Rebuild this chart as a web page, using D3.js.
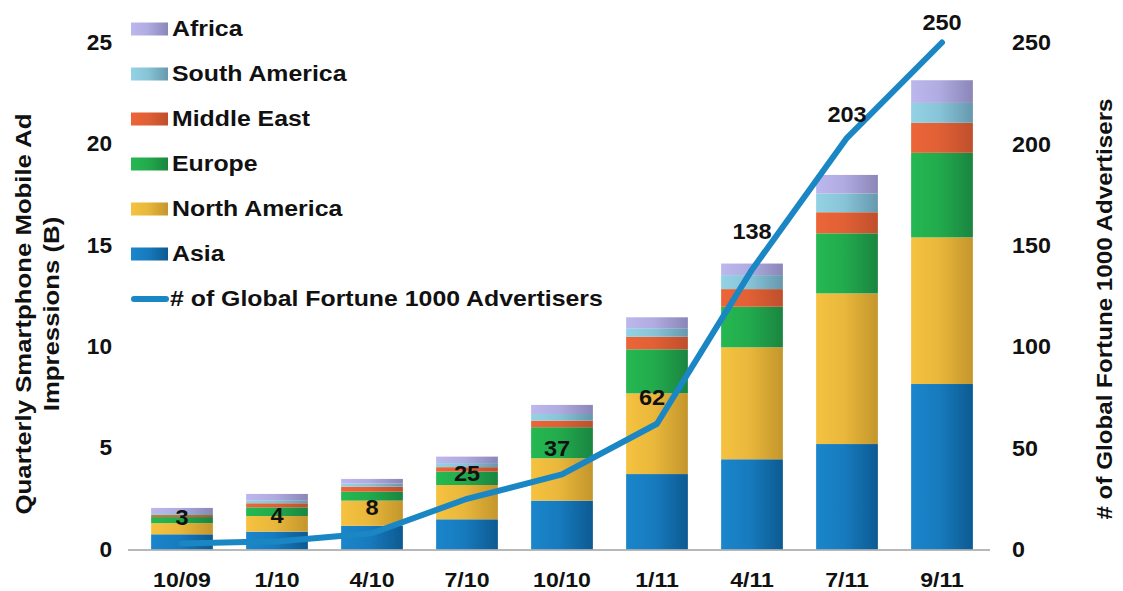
<!DOCTYPE html>
<html>
<head>
<meta charset="utf-8">
<script src="https://cdn.jsdelivr.net/npm/d3@7"></script>
<style>
  body { margin: 0; background: #fff; }
  svg { display: block; }
  text { font-family: "Liberation Sans", Arial, sans-serif; font-weight: bold; fill: #111; }
</style>
</head>
<body>
<div id="chart"></div>
<script>

// data
const quarters = ['10/09', '1/10', '4/10', '7/10', '10/10', '1/11', '4/11', '7/11', '9/11'];
const regions = ['Asia', 'North America', 'Europe', 'Middle East', 'South America', 'Africa'];

const asia         = [0.75, 0.88, 1.17, 1.49, 2.41, 3.72, 4.45, 5.20, 8.16];
const northAmerica = [0.55, 0.77, 1.24, 1.69, 2.09, 3.98, 5.52, 7.43, 7.23];
const europe       = [0.30, 0.43, 0.44, 0.66, 1.53, 2.17, 2.00, 2.96, 4.17];
const middleEast   = [0.10, 0.20, 0.25, 0.22, 0.32, 0.62, 0.87, 1.04, 1.48];
const southAmerica = [0.10, 0.15, 0.15, 0.20, 0.33, 0.42, 0.69, 0.93, 0.98];
const africa       = [0.25, 0.31, 0.23, 0.32, 0.45, 0.54, 0.57, 0.91, 1.12];

const advertisers = [3, 4, 8, 25, 37, 62, 138, 203, 250];

const leftTicks = [0, 5, 10, 15, 20, 25];
const rightTicks = [0, 50, 100, 150, 200, 250];

const seriesValues = [asia, northAmerica, europe, middleEast, southAmerica, africa];

// light -> dark for the horizontal shading on each bar
const colors = {
    'Asia':          ['#1a86cc', '#0d5a92'],
    'North America': ['#f5c240', '#c4962c'],
    'Europe':        ['#25b851', '#1a8540'],
    'Middle East':   ['#ec6538', '#bf4f2c'],
    'South America': ['#93d2e4', '#6698ae'],
    'Africa':        ['#bcb8ee', '#8a86b8']
};
const lineColor = '#1a87c4';

const width = 1123, height = 591;

const svg = d3.select('#chart').append('svg')
    .attr('width', width)
    .attr('height', height);

const defs = svg.append('defs');
regions.forEach(function(r, i) {
    const grad = defs.append('linearGradient')
        .attr('id', 'grad' + i)
        .attr('x1', '0%').attr('x2', '100%')
        .attr('y1', '0%').attr('y2', '0%');
    grad.append('stop').attr('offset', '0%').attr('stop-color', colors[r][0]);
    grad.append('stop').attr('offset', '45%').attr('stop-color', d3.interpolateRgb(colors[r][0], colors[r][1])(0.25));
    grad.append('stop').attr('offset', '100%').attr('stop-color', colors[r][1]);
});

// the source type is a little wide, so each text gets a horizontal stretch
const addText = function(g, x, y, str, size, anchor, stretch, rotate) {
    let tr = `translate(${x},${y})`;
    if (rotate) tr += ` rotate(${rotate})`;
    tr += ` scale(${stretch || 1},1)`;
    return g.append('text')
        .attr('transform', tr)
        .attr('font-size', size)
        .attr('text-anchor', anchor || 'middle')
        .attr('dominant-baseline', 'central')
        .text(str);
};

const x = d3.scaleBand()
    .domain(quarters)
    .range([134.5, 989.5])
    .paddingInner(0.35)
    .paddingOuter(0.175);

const y = d3.scaleLinear().domain([0, 25]).range([549.5, 42.5]);
const yRight = d3.scaleLinear().domain([0, 250]).range([549.5, 42.5]);

// stack the regions
const table = quarters.map(function(q, i) {
    const row = {quarter: q};
    regions.forEach(function(r, j) { row[r] = seriesValues[j][i]; });
    return row;
});
const stacked = d3.stack().keys(regions)(table);

const bars = svg.append('g');
bars.selectAll('g')
    .data(stacked)
    .enter()
    .append('g')
    .attr('fill', function(d, i) { return 'url(#grad' + i + ')'; })
    .selectAll('rect')
    .data(function(d) { return d; })
    .enter()
    .append('rect')
    .attr('x', function(d) { return x(d.data.quarter); })
    .attr('y', function(d) { return y(d[1]); })
    .attr('width', x.bandwidth())
    .attr('height', function(d) { return y(d[0]) - y(d[1]); });

// baseline
svg.append('line')
    .attr('x1', 128).attr('x2', 990)
    .attr('y1', y(0) + 0.5).attr('y2', y(0) + 0.5)
    .attr('stroke', '#a0a0a0')
    .attr('stroke-width', 1.5);

// axes, done by hand on top of the scales (no domain lines in the source)
const leftAxis = svg.append('g');
leftTicks.forEach(function(t) {
    addText(leftAxis, 112, y(t), t, 22, 'end', 1.03);
});
const rightAxis = svg.append('g');
rightTicks.forEach(function(t) {
    addText(rightAxis, 1012, yRight(t), t, 22, 'start', 1.06);
});
const bottomAxis = svg.append('g');
quarters.forEach(function(q) {
    addText(bottomAxis, x(q) + x.bandwidth() / 2, 580, q, 21, 'middle', 1.1);
});

// axis titles, both read bottom to top
addText(svg, 23, 314, 'Quarterly Smartphone Mobile Ad', 22, 'middle', 1.17, -90);
addText(svg, 51, 314, 'Impressions (B)', 22, 'middle', 1.17, -90);
addText(svg, 1104, 309, '# of Global Fortune 1000 Advertisers', 22, 'middle', 1.1, -90);

// advertisers line
const cx = function(q) { return x(q) + x.bandwidth() / 2; };
const line = d3.line()
    .x(function(d, i) { return cx(quarters[i]); })
    .y(function(d) { return yRight(d); });

svg.append('path')
    .datum(advertisers)
    .attr('d', line)
    .attr('fill', 'none')
    .attr('stroke', lineColor)
    .attr('stroke-width', 6)
    .attr('stroke-linejoin', 'round')
    .attr('stroke-linecap', 'round');

// value labels
const labelLift = [26, 26, 26, 26, 26, 26, 38, 24, 20];
const labelShift = [0, 0, 0, 0, -5, -5, 0, 0, 0];
const labels = svg.append('g');
advertisers.forEach(function(v, i) {
    addText(labels, cx(quarters[i]) + labelShift[i], yRight(v) - labelLift[i], v, 22, 'middle', 1.07);
});

// legend, top to bottom is the reverse of the stack
const legend = svg.append('g');
const legendOrder = regions.slice().reverse();
legendOrder.forEach(function(r, i) {
    const ly = 29 + i * 45;
    legend.append('rect')
        .attr('x', 131).attr('y', ly - 6.5)
        .attr('width', 37).attr('height', 13)
        .attr('fill', 'url(#grad' + regions.indexOf(r) + ')');
    addText(legend, 172, ly, r, 22, 'start', 1.13);
});
const lineRowY = 29 + 6 * 45;
legend.append('line')
    .attr('x1', 134).attr('x2', 166)
    .attr('y1', lineRowY).attr('y2', lineRowY)
    .attr('stroke', lineColor)
    .attr('stroke-width', 6)
    .attr('stroke-linecap', 'round');
addText(legend, 170, lineRowY, '# of Global Fortune 1000 Advertisers', 22, 'start', 1.13);

</script>
</body>
</html>
